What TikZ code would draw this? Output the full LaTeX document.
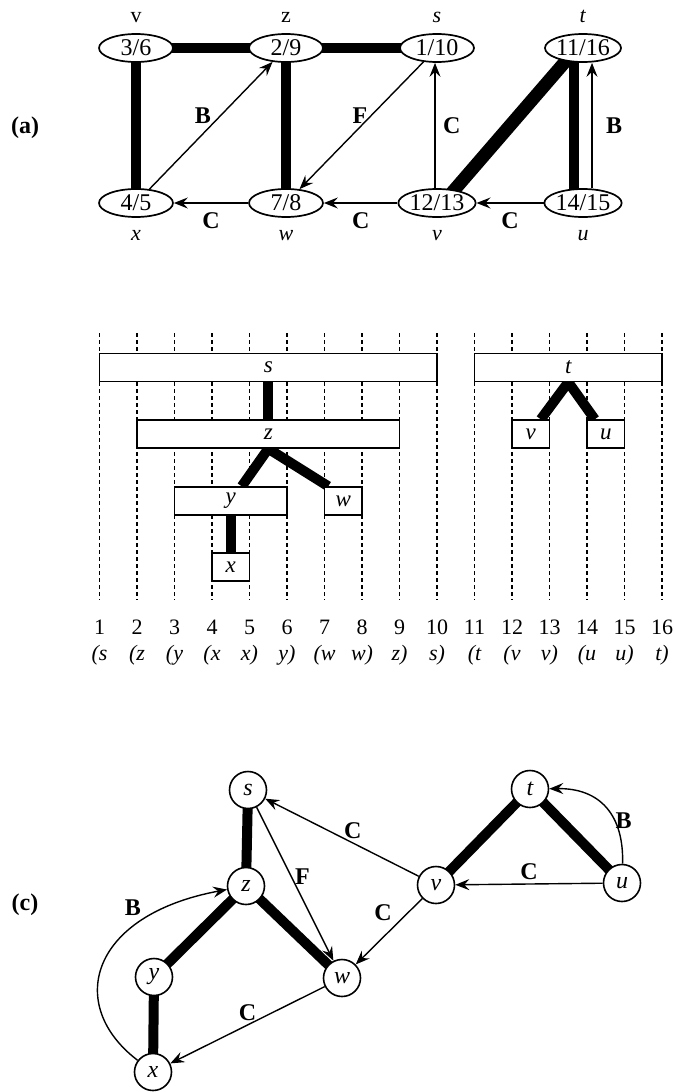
\documentclass[tikz,border=0pt]{standalone}
\usepackage{fontspec}
\setmainfont{Liberation Serif}
\usetikzlibrary{arrows.meta,positioning,backgrounds,shapes.geometric}

\begin{document}
\begin{tikzpicture}[x=1pt,y=-1pt,
   every node/.style={font=\fontsize{22}{26}\selectfont},
   stamp/.style={ellipse,draw,line width=1.7pt,fill=white,minimum width=74pt,minimum height=28pt,inner sep=0pt,font=\fontsize{24}{26}\selectfont},
   vert/.style={circle,draw,line width=1.6pt,fill=white,minimum size=37pt,inner sep=0pt,font=\fontsize{24}{26}\selectfont\itshape},
   bar/.style={draw,line width=1.4pt,fill=white,minimum height=28pt,inner sep=0pt,font=\fontsize{23}{26}\selectfont\itshape},
   treeedge/.style={line width=10pt},
   arr/.style={-{Stealth[length=14pt,width=11pt,inset=5pt]},line width=1.4pt},
   lab/.style={font=\fontsize{24}{26}\selectfont\bfseries},
   gridline/.style={line width=1.3pt,dash pattern=on 4pt off 3pt}]
  \useasboundingbox (0,0) rectangle (675,1092);

  % (a)
  \node[lab] (pa) at (25,128) {(a)};
  \node[stamp] (n36) at (136,48) {3/6};
  \node[stamp] (n29) at (286,48) {2/9};
  \node[stamp] (n110) at (437,48) {1/10};
  \node[stamp] (n1116) at (583,48) {11/16};
  \node[stamp] (n45) at (136,203) {4/5};
  \node[stamp] (n78) at (286,203) {7/8};
  \node[stamp] (n1213) at (437,203) {12/13};
  \node[stamp] (n1415) at (583,203) {14/15};
  \node[anchor=base] (ly) at (136,22) {v};
  \node[anchor=base] (lz) at (286,22) {z};
  \node[anchor=base] (ls) at (437,22) {\textit{s}};
  \node[anchor=base] (lt) at (583,22) {\textit{t}};
  \node[anchor=base] (lx) at (136,240) {\textit{x}};
  \node[anchor=base] (lw) at (286,240) {\textit{w}};
  \node[anchor=base] (lv) at (437,240) {\textit{v}};
  \node[anchor=base] (lu) at (583,240) {\textit{u}};
  \begin{scope}[on background layer]
    \draw[treeedge] (n36.center) -- (n29.center) -- (n110.center);
    \draw[treeedge] (n36.center) -- (n45.center);
    \draw[treeedge] (n29.center) -- (n78.center);
    \draw[treeedge,line width=13pt] ([xshift=-6pt]n1116.center) -- ([xshift=6pt]n1213.center);
    \draw[treeedge] ([xshift=-9pt]n1116.center) -- ([xshift=-9pt]n1415.center);
  \end{scope}
  \draw[arr] (n45) -- node[pos=.58,left=6pt,lab] {B} (n29);
  \draw[arr] (n110) -- node[pos=.42,left=0pt,lab] {F} (n78);
  \draw[arr] ([xshift=-2pt]n1213.north) -- node[midway,right=4pt,lab] {C} ([xshift=-2pt]n110.south);
  \draw[arr] ([xshift=9pt]n1415.north) -- node[midway,right=10pt,lab] {B} ([xshift=9pt]n1116.south);
  \draw[arr] (n78) -- node[midway,below=6pt,lab] {C} (n45);
  \draw[arr] (n1213) -- node[midway,below=6pt,lab] {C} (n78);
  \draw[arr] (n1415) -- node[midway,below=6pt,lab] {C} (n1213);

  % (b)
  \foreach \i in {1,...,16} {
    \draw[gridline] (62+37.5*\i,333) -- (62+37.5*\i,600);
    \node (num\i) at (62+37.5*\i,627) {\i};
  }
  \foreach \i/\t in {1/{(s},2/{(z},3/{(y},4/{(x},5/{x)},6/{y)},7/{(w},8/{w)},
                     9/{z)},10/{s)},11/{(t},12/{(v},13/{v)},14/{(u},15/{u)},16/{t)}}
    \node[font=\fontsize{22}{26}\selectfont\itshape] (par\i) at (62+37.5*\i,655) {\t};
  \node[bar,minimum width=337.5pt] (sb) at (268.25,367.5) {s};
  \node[bar,minimum width=262.5pt] (zb) at (268.25,434) {z};
  \node[bar,minimum width=112.5pt] (yb) at (230.75,501) {y};
  \node[bar,minimum width=37.5pt] (wb) at (343.25,501) {w};
  \node[bar,minimum width=37.5pt] (xb) at (230.75,567) {x};
  \node[bar,minimum width=187.5pt] (tb) at (568.25,367.5) {t};
  \node[bar,minimum width=37.5pt] (vb) at (530.75,434) {v};
  \node[bar,minimum width=37.5pt] (ub) at (605.75,434) {u};
  \begin{scope}[on background layer]
    \draw[treeedge] (sb.south) -- (zb.north);
    \draw[treeedge] (zb.south) -- ([xshift=11pt]yb.north);
    \draw[treeedge] (zb.south) -- ([xshift=-15pt]wb.north);
    \draw[treeedge] (yb.south) -- (xb.north);
    \draw[treeedge] (tb.south) -- ([xshift=10pt]vb.north);
    \draw[treeedge] (tb.south) -- ([xshift=-11pt]ub.north);
  \end{scope}

  % (c)
  \node[lab] (pc) at (25,905) {(c)};
  \node[vert] (sc) at (248,790) {s};
  \node[vert] (zc) at (246,886) {z};
  \node[vert] (yc) at (154,977) {y};
  \node[vert] (xc) at (153,1072) {x};
  \node[vert] (wc) at (342,978) {w};
  \node[vert] (vc) at (436,885) {v};
  \node[vert] (tc) at (530,789) {t};
  \node[vert] (uc) at (622,883) {u};
  \begin{scope}[on background layer]
    \draw[treeedge] (sc.center) -- (zc.center) -- (yc.center) -- (xc.center);
    \draw[treeedge] (zc.center) -- (wc.center);
    \draw[treeedge] (vc.center) -- (tc.center) -- (uc.center);
  \end{scope}
  \draw[arr] (sc) -- node[pos=.45,right,lab] {F} (wc);
  \draw[arr] (vc) -- node[pos=.43,above,lab] {C} (sc);
  \draw[arr] (vc) -- node[pos=.4,above left,lab] {C} (wc);
  \draw[arr] (wc) -- node[midway,above,lab] {C} (xc);
  \draw[arr] (uc) -- node[midway,above,lab] {C} (vc);
  \draw[arr] (xc) .. controls +(-88,-67) and +(-156,29) .. node[pos=.75,above left,lab] {B} (zc);
  \draw[arr] (uc) .. controls +(2,-68) and +(70,-1) .. node[pos=.35,right=-3pt,lab] {B} (tc);
\end{tikzpicture}
\end{document}
